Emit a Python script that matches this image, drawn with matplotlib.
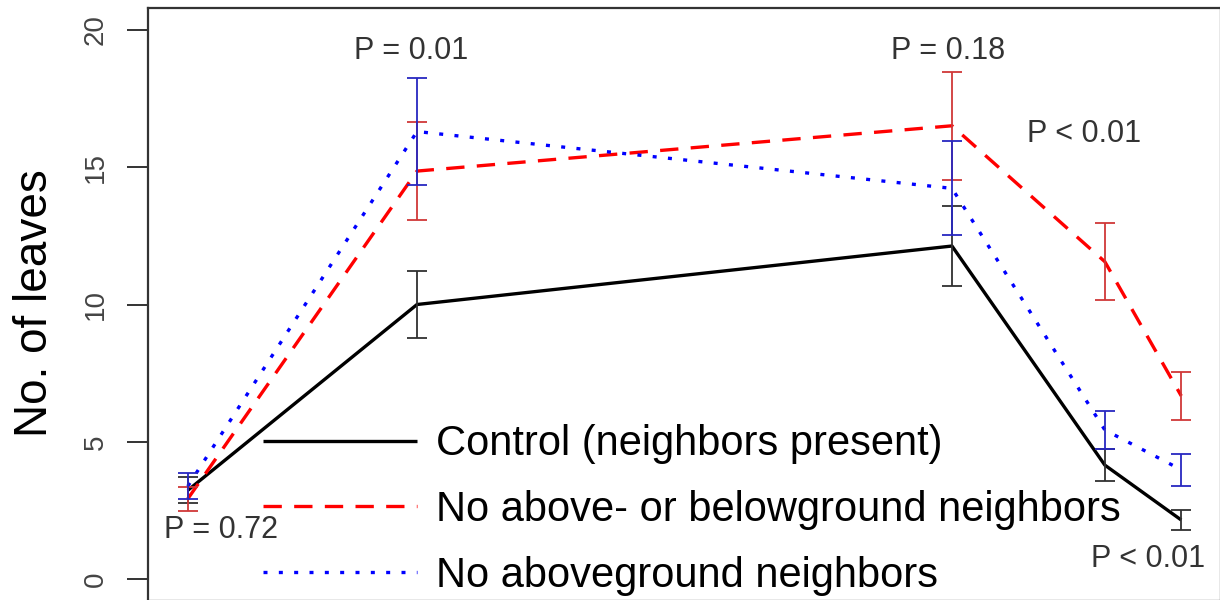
import matplotlib
matplotlib.use("Agg")
import matplotlib.pyplot as plt

plt.rcParams['font.family'] = ['Liberation Sans', 'DejaVu Sans']

# sampling times (relative units, read from point spacing)
TIMES = [0, 3, 10, 12, 13]

CONTROL = [3.23, 10.0, 12.13, 4.15, 2.15]
CONTROL_ERR = [0.47, 1.22, 1.45, 0.58, 0.37]

NO_BOTH = [2.92, 14.86, 16.51, 11.56, 6.67]
NO_BOTH_ERR = [0.44, 1.77, 1.96, 1.41, 0.88]

NO_ABOVE = [3.38, 16.30, 14.23, 5.43, 3.98]
NO_ABOVE_ERR = [0.47, 1.96, 1.71, 0.70, 0.58]

LABELS = ["Control (neighbors present)",
          "No above- or belowground neighbors",
          "No aboveground neighbors"]

P_TEXT = ["P = 0.72", "P = 0.01", "P = 0.18", "P < 0.01", "P < 0.01"]

YTICKS = [0, 5, 10, 15, 20]

fig = plt.figure(figsize=(12.2, 6), dpi=100)
ax = fig.add_axes([148 / 1220, -1 / 600, 1073 / 1220, 593 / 600])

LW = 2.4
l1, = ax.plot(TIMES, CONTROL, color="black", lw=LW, solid_capstyle="butt")
l2, = ax.plot(TIMES, NO_BOTH, color="#ff0000", lw=LW, dashes=(5.5, 3.7))
l3, = ax.plot(TIMES, NO_ABOVE, color="#0000ff", lw=LW, dashes=(1.2, 3.4))

ax.errorbar(TIMES, CONTROL, yerr=CONTROL_ERR, fmt="none", ecolor="#303030",
            elinewidth=1.3, capsize=7.2, capthick=1.3)
ax.errorbar(TIMES, NO_BOTH, yerr=NO_BOTH_ERR, fmt="none", ecolor="#d03838",
            elinewidth=1.3, capsize=7.2, capthick=1.3)
ax.errorbar(TIMES, NO_ABOVE, yerr=NO_ABOVE_ERR, fmt="none", ecolor="#2828c0",
            elinewidth=1.3, capsize=7.2, capthick=1.3)

# P-value labels
p_pos = [(0.44, 1.49), (2.92, 18.94), (9.95, 18.94), (11.73, 15.92), (12.57, 0.44)]
for txt, (px, py) in zip(P_TEXT, p_pos):
    ax.text(px, py, txt, ha="center", va="baseline", fontsize=22, color="#333333")

ax.set_xlim(-0.52, 13.52)
ax.set_ylim(-0.8, 20.8)
ax.set_xticks([])
ax.set_yticks(YTICKS)
ax.set_yticklabels([str(t) for t in YTICKS], rotation=90, va="center",
                   fontsize=20, color="#444444")
ax.tick_params(axis="y", length=15, width=1.4, pad=13, color="#333333")
for s in ax.spines.values():
    s.set_linewidth(1.6)
    s.set_color("#333333")

fig.text(35 / 1220, 1 - 303 / 600, "No. of leaves", rotation=90,
         ha="center", va="center", fontsize=33)

ax.legend([l1, l2, l3], LABELS, loc="center left",
          bbox_to_anchor=(0.107, 0.1535), frameon=False, fontsize=30,
          handlelength=3.7, handletextpad=0.45, labelspacing=0.62,
          borderpad=0, borderaxespad=0)

fig.savefig("out.png", dpi=100)
